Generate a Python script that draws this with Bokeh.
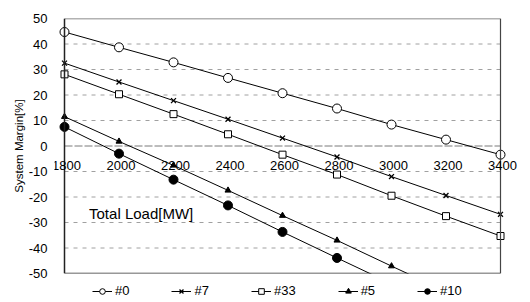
from bokeh.plotting import figure
from bokeh.layouts import column
from bokeh.models import Range1d, FixedTicker, Span, Label, LabelSet, Legend, LegendItem, ColumnDataSource
from bokeh.core.properties import value
from bokeh.embed import file_html
from bokeh.resources import INLINE

load = [1800, 2000, 2200, 2400, 2600, 2800, 3000, 3200, 3400]
s0 = [44.7, 38.7, 32.8, 26.7, 20.7, 14.7, 8.4, 2.5, -3.4]
s7 = [32.5, 25.1, 17.8, 10.5, 3.1, -4.3, -12.0, -19.4, -26.8]
s33 = [28.1, 20.3, 12.5, 4.6, -3.4, -11.2, -19.5, -27.5, -35.3]
load5 = [1800, 2000, 2200, 2400, 2600, 2800, 3000, 3200]
s5 = [11.5, 1.8, -7.6, -17.4, -27.3, -37.0, -47.1, -57.0]
load10 = [1800, 2000, 2200, 2400, 2600, 2800, 3000]
s10 = [7.5, -3.0, -13.2, -23.3, -33.7, -43.9, -54.0]

y_ticks = [50, 40, 30, 20, 10, 0, -10, -20, -30, -40, -50]
y_tick_labels = ["50", "40", "30", "20", "10", "0", "-10", "-20", "-30", "-40", "-50"]
x_ticks = [1800, 2000, 2200, 2400, 2600, 2800, 3000, 3200, 3400]
x_tick_labels = ["1800", "2000", "2200", "2400", "2600", "2800", "3000", "3200", "3400"]
series_labels = ["#0", "#7", "#33", "#5", "#10"]

FONT = "Liberation Sans"

# layout (pixels)
W = 519
PX_PER_UNIT = 54.5 / 200.0
PAD_L, PAD_R = 10, 17
x_lo = x_ticks[0] - PAD_L / PX_PER_UNIT
x_hi = x_ticks[-1] + PAD_R / PX_PER_UNIT

p = figure(width=W, height=283, output_backend="svg", toolbar_location=None,
           x_range=Range1d(x_lo, x_hi), y_range=Range1d(y_ticks[-1], y_ticks[0]),
           x_axis_location=None, min_border_left=54, min_border_right=2,
           min_border_top=18, min_border_bottom=10)
p.background_fill_color = "white"
p.border_fill_color = "white"
p.outline_line_color = None
p.xgrid.visible = False
p.ygrid.visible = False

yax = p.yaxis[0]
yax.ticker = FixedTicker(ticks=y_ticks)
yax.major_label_overrides = {t: l for t, l in zip(y_ticks, y_tick_labels)}
yax.major_tick_in = 0
yax.major_tick_out = 0
yax.minor_tick_in = 0
yax.minor_tick_out = 0
yax.major_label_standoff = 7
yax.major_label_text_font = FONT
yax.major_label_text_font_size = "13px"
yax.major_label_text_color = "black"
yax.axis_line_color = None
yax.axis_label = "System Margin[%]"
yax.axis_label_text_font = FONT
yax.axis_label_text_font_size = "11.5px"
yax.axis_label_text_font_style = "normal"
yax.axis_label_text_color = "black"
yax.axis_label_standoff = 1

grid_y = [t for t in y_ticks if t not in (y_ticks[0], y_ticks[-1], 0)]
p.segment(x0=[x_ticks[0]] * len(grid_y), x1=[x_ticks[-1]] * len(grid_y), y0=grid_y, y1=grid_y,
          line_color="#a0a0a0", line_width=1, line_dash="4 5")
p.segment(x0=[x_ticks[0]], x1=[x_ticks[-1]], y0=[0], y1=[0],
          line_color="#7a7a7a", line_width=1, line_dash="8 2")
p.segment(x0=[x_ticks[0]], x1=[x_ticks[-1]], y0=[y_ticks[0]], y1=[y_ticks[0]],
          line_color="#666666", line_width=1.5)
p.segment(x0=[x_ticks[0]], x1=[x_ticks[-1]], y0=[y_ticks[-1]], y1=[y_ticks[-1]],
          line_color="#333333", line_width=1.5)
p.add_layout(Span(location=x_ticks[0], dimension="height", line_color="#222222", line_width=1.5))
p.add_layout(Span(location=x_ticks[-1], dimension="height", line_color="#444444", line_width=1.2))

tsrc = ColumnDataSource(dict(x=x_ticks, y=[-7.6] * len(x_ticks), t=x_tick_labels))
p.add_layout(LabelSet(x="x", y="y", text="t", source=tsrc, text_font=value(FONT), text_font_size="13px",
                      text_align="center", text_baseline="middle", text_color="black", x_offset=2))

p.add_layout(Label(x=1890, y=-26.5, text="Total Load[MW]", text_font=FONT, text_font_size="15px",
                   text_baseline="middle", text_align="left", text_color="black"))

xs_list = [load, load, load, load5, load10]
ys_list = [s0, s7, s33, s5, s10]
marker_specs = [("circle", 9, "white"), ("x", 7, None), ("square", 7, "white"),
                ("triangle", 6, "black"), ("circle", 9, "black")]
leg_specs = [("circle", 7, "white"), ("x", 6, None), ("square", 6, "white"),
             ("triangle", 6, "black"), ("circle", 8, "black")]

for xs, ys, (mk, sz, fc) in zip(xs_list, ys_list, marker_specs):
    p.line(xs, ys, line_color="black", line_width=1)
    if fc is None:
        p.scatter(xs, ys, marker=mk, size=sz, line_color="black", line_width=1.3)
    else:
        p.scatter(xs, ys, marker=mk, size=sz, fill_color=fc, line_color="black", line_width=1)

# legend strip below the chart (its renderers hold the same series, outside this strip's ranges)
q = figure(width=W, height=16, output_backend="svg", toolbar_location=None,
           x_range=Range1d(0, 1), y_range=Range1d(0, 1),
           x_axis_location=None, y_axis_location=None,
           min_border_left=0, min_border_right=0, min_border_top=0, min_border_bottom=0)
q.outline_line_color = None
q.xgrid.visible = False
q.ygrid.visible = False
items = []
for lab, xs, ys, (mk, sz, fc) in zip(series_labels, xs_list, ys_list, leg_specs):
    lr = q.line(xs, ys, line_color="black", line_width=1)
    if fc is None:
        mr = q.scatter(xs, ys, marker=mk, size=sz, line_color="black", line_width=1.3)
    else:
        mr = q.scatter(xs, ys, marker=mk, size=sz, fill_color=fc, line_color="black", line_width=1)
    items.append(LegendItem(label=lab, renderers=[lr, mr]))
legend = Legend(items=items, orientation="horizontal", location=(38, 1),
                label_text_font=FONT, label_text_font_size="13px", label_text_color="black",
                glyph_width=20, glyph_height=14, label_height=14, label_width=10,
                label_standoff=3, spacing=42,
                padding=0, margin=0, border_line_color=None, background_fill_alpha=0)
q.add_layout(legend)

layout = column(p, q, spacing=0)
open("out.html", "w").write(file_html(layout, INLINE))
